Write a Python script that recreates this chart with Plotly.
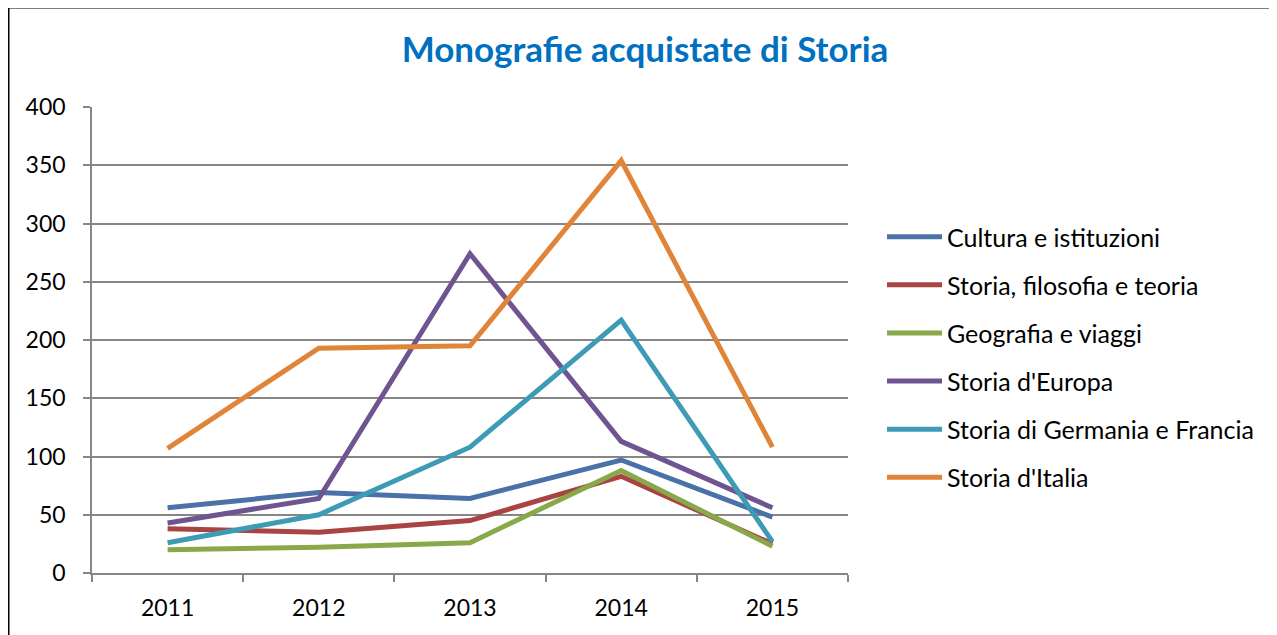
import plotly.graph_objects as go

years = ["2011", "2012", "2013", "2014", "2015"]
cultura = [56, 69, 64, 97, 48]
filosofia = [38, 35, 45, 83, 25]
geografia = [20, 22, 26, 88, 23]
europa = [43, 64, 274, 113, 56]
germania_francia = [26, 50, 108, 217, 27]
italia = [107, 193, 195, 354, 108]

series = [
    ("Cultura e istituzioni", cultura, "#4A72A8"),
    ("Storia, filosofia e teoria", filosofia, "#A94442"),
    ("Geografia e viaggi", geografia, "#89A84A"),
    ("Storia d'Europa", europa, "#6E5490"),
    ("Storia di Germania e Francia", germania_francia, "#3E9BB5"),
    ("Storia d'Italia", italia, "#E0843A"),
]

OFF = 8  # browser body margin
W, H = 1277 - OFF, 635 - OFF
L, R, T, B = 92 - OFF, 848 - OFF, 107 - OFF, 573 - OFF

fig = go.Figure()
for i, (name, vals, color) in enumerate(series):
    fig.add_trace(go.Scatter(
        x=years, y=vals, name=name, mode="lines",
        line=dict(color=color, width=5),
        legendgroup=f"g{i}",
    ))

def px_x(p):
    return (p - OFF - L) / (R - L)

def px_y(p):
    return (B - (p - OFF)) / (B - T)

fig.update_layout(
    width=W, height=H,
    margin=dict(l=L, r=W - R, t=T, b=H - B, pad=0),
    paper_bgcolor="white", plot_bgcolor="white",
    font=dict(family="Lato, Carlito, Calibri, sans-serif", color="black", size=23),
    title=dict(
        text="<b>Monografie acquistate di Storia</b>",
        font=dict(family="Lato, Carlito, Calibri, sans-serif", size=35, color="#0070C0"),
        x=(645 - OFF) / W, xanchor="center", y=1 - (50 - OFF) / H, yanchor="middle",
    ),
    showlegend=True,
    legend=dict(
        x=px_x(882), y=px_y(214), xanchor="left", yanchor="top",
        font=dict(size=25, color="black"),
        tracegroupgap=12.6, bgcolor="rgba(0,0,0,0)",
        itemwidth=55,
    ),
    xaxis=dict(
        type="category", range=[-0.5, 4.5],
        showline=True, linecolor="#868686", linewidth=1.5,
        ticks="outside", ticklen=7, tickcolor="#868686", tickwidth=1.5,
        tickson="boundaries", showgrid=False,
        tickfont=dict(size=23), ticklabelstandoff=14,
    ),
    yaxis=dict(
        range=[0, 400], tickvals=[0, 50, 100, 150, 200, 250, 300, 350, 400],
        showline=True, linecolor="#868686", linewidth=1.5,
        ticks="outside", ticklen=7, tickcolor="#868686", tickwidth=1.5,
        showgrid=True, gridcolor="#868686", gridwidth=1.5,
        zeroline=False,
        tickfont=dict(size=23), ticklabelstandoff=13,
    ),
    shapes=[
        dict(type="line", xref="paper", yref="paper",
             x0=px_x(8.5), x1=px_x(1290), y0=px_y(7.5), y1=px_y(7.5),
             line=dict(color="black", width=2)),
        dict(type="line", xref="paper", yref="paper",
             x0=px_x(8.5), x1=px_x(8.5), y0=px_y(7.5), y1=px_y(650),
             line=dict(color="black", width=2)),
    ],
)

fig.write_html("out.html")
